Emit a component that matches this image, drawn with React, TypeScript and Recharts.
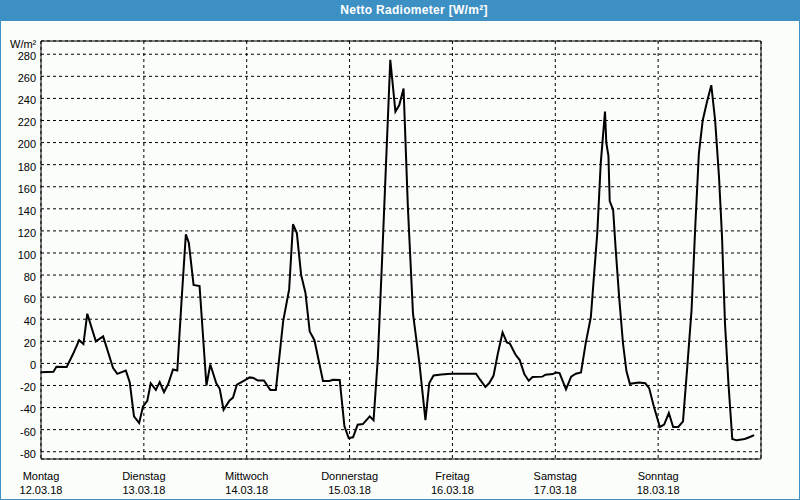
import React from 'react';
import { LineChart, Line, XAxis, YAxis, CartesianGrid, ReferenceLine } from 'recharts';

// time in hours since Monday 12.03.18 00:00
const hours = [
  0, 2.9, 3.6, 6, 7.5, 8.9, 9.9, 10.8, 12.8, 14.5, 16.8, 17.8, 19.8, 20.7, 21.7, 22.9,
  23.8, 24.8, 25.6, 26.8, 27.7, 28.7, 29.7, 30.8, 31.8, 32.8, 33.8, 34.5, 35.6, 37, 38.6, 39.5,
  40.9, 41.7, 42.6, 44, 44.8, 45.7, 47.1, 48.7, 49.6, 50.6, 52, 53.5, 54.8, 56.5, 57.9, 58.8,
  59.7, 60.7, 61.7, 62.7, 63.8, 65.8, 67.3, 68.1, 69.7, 70.8, 71.8, 72.8, 73.9, 75.1, 76.7, 77.6,
  78.6, 79.6, 80.6, 81.5, 82.7, 83.6, 84.6, 85.6, 86.8, 88.3, 89.7, 90.6, 91.6, 93.4, 95.7, 101.5,
  102.5, 103.7, 104.6, 105.6, 106.6, 107.7, 108.7, 109.4, 110.7, 111.7, 112.8, 113.8, 114.7, 117, 117.7, 119.4,
  120.2, 121, 122.5, 123.7, 124.8, 126, 127.1, 128.3, 129, 129.8, 130.6, 131.6, 131.9, 132.4, 132.7, 133.5,
  134.1, 134.9, 135.8, 136.6, 137.4, 139.5, 141, 141.9, 143, 144.4, 145.4, 146.5, 147.5, 148.7, 149.8, 150.8,
  151.8, 152.7, 153.5, 154.4, 155.4, 156.4, 157.3, 158.2, 158.9, 159.6, 160.4, 161.3, 162.3, 164.2, 165.4, 166.4,
];

const values = [
  -8, -7.5, -3, -3.3, 8.7, 21, 17.5, 45, 20, 24.5, -4, -9.5, -6.5, -17, -48, -54,
  -39, -34, -18, -24, -17, -26, -18.5, -5.5, -6.5, 57, 117, 109, 71, 70, -20, -1,
  -18, -23, -42, -33.5, -31, -19.3, -16.3, -12.7, -13.3, -15.4, -15.4, -24, -24, 38, 67, 126,
  118, 80, 64, 29, 21, -16, -16, -14.8, -15, -57, -67.6, -67, -55.5, -55, -48, -51.5,
  5, 95, 190, 275, 228, 234, 249, 142, 45, 0, -51.5, -17.8, -11, -10, -9.4, -9.4,
  -15, -21.4, -17.8, -11, 9, 28, 19, 18, 8, 3, -10, -15.7, -12.4, -12, -10.3, -9.7,
  -8.2, -8.8, -23.5, -12, -9.4, -8.2, 18.4, 42, 78, 118, 181, 228, 200, 188, 147, 139,
  103, 60, 18, -7, -18.5, -17.3, -18, -22.4, -39, -57.6, -55.5, -45, -57.6, -57.6, -52.5, -3,
  48.5, 127, 190, 220, 237, 252, 220, 169, 115, 36, -18, -68.5, -69.7, -68.5, -66.7, -65,
];

const dayNames = ['Montag', 'Dienstag', 'Mittwoch', 'Donnerstag', 'Freitag', 'Samstag', 'Sonntag'];
const dayDates = ['12.03.18', '13.03.18', '14.03.18', '15.03.18', '16.03.18', '17.03.18', '18.03.18'];
const dayTicks = [0, 24, 48, 72, 96, 120, 144];
const yTicks = [-80, -60, -40, -20, 0, 20, 40, 60, 80, 100, 120, 140, 160, 180, 200, 220, 240, 260, 280];

const data = hours.map((h, i) => ({ h, v: values[i] }));

const FONT = '"Liberation Sans", Arial, sans-serif';
const BLUE = '#3d90c3';

const DayTick = (props: any) => {
  const { x, payload } = props;
  const i = dayTicks.indexOf(payload.value);
  if (i < 0) return null;
  return (
    <g>
      <text x={x} y={480} textAnchor="middle" fontSize={11} fontFamily={FONT} fill="#000">
        {dayNames[i]}
      </text>
      <text x={x} y={494} textAnchor="middle" fontSize={11} fontFamily={FONT} fill="#000">
        {dayDates[i]}
      </text>
    </g>
  );
};

export default function App() {
  return (
    <div
      style={{
        position: 'absolute',
        left: 0,
        top: 0,
        width: 800,
        height: 500,
        background: '#fbfdfb',
        boxSizing: 'border-box',
        border: `1px solid ${BLUE}`,
        borderTop: 'none',
        overflow: 'hidden',
        fontFamily: FONT,
      }}
    >
      <div
        style={{
          position: 'absolute',
          left: -1,
          top: 0,
          width: 800,
          height: 21,
          background: BLUE,
        }}
      />
      <div
        style={{
          position: 'absolute',
          left: 313,
          top: 0,
          width: 200,
          height: 20,
          color: '#fff',
          fontWeight: 'bold',
          fontSize: 12,
          letterSpacing: 0.3,
          lineHeight: '20px',
          textAlign: 'center',
        }}
      >
        Netto Radiometer [W/m²]
      </div>
      <div
        style={{
          position: 'absolute',
          left: 9,
          top: 38,
          fontSize: 11,
          lineHeight: '12px',
          color: '#000',
        }}
      >
        W/m²
      </div>
      <div style={{ position: 'absolute', left: -1, top: 0 }}>
        <LineChart
          width={800}
          height={500}
          data={data}
          margin={{ top: 41, right: 39, bottom: 0, left: 0 }}
        >
          <CartesianGrid
            stroke="#000"
            strokeDasharray="3 3"
            horizontal={true}
            vertical={true}
          />
          <XAxis
            dataKey="h"
            type="number"
            domain={[0, 168]}
            ticks={dayTicks}
            interval={0}
            height={41}
            axisLine={{ stroke: '#000', strokeWidth: 1 }}
            tickLine={false}
            tick={<DayTick />}
          />
          <YAxis
            type="number"
            domain={[-86.6, 292]}
            ticks={yTicks}
            interval={0}
            width={41}
            allowDataOverflow={true}
            axisLine={{ stroke: '#000', strokeWidth: 1 }}
            tickLine={false}
            tickSize={3}
            tickMargin={2}
            tick={{ fontSize: 11, fontFamily: FONT, fill: '#000', dy: 2 }}
          />
          <ReferenceLine y={292} stroke="#000" strokeWidth={1} />
          <ReferenceLine x={168} stroke="#000" strokeWidth={1} />
          <Line
            type="linear"
            dataKey="v"
            stroke="#000"
            strokeWidth={2}
            dot={false}
            isAnimationActive={false}
          />
        </LineChart>
      </div>
    </div>
  );
}
